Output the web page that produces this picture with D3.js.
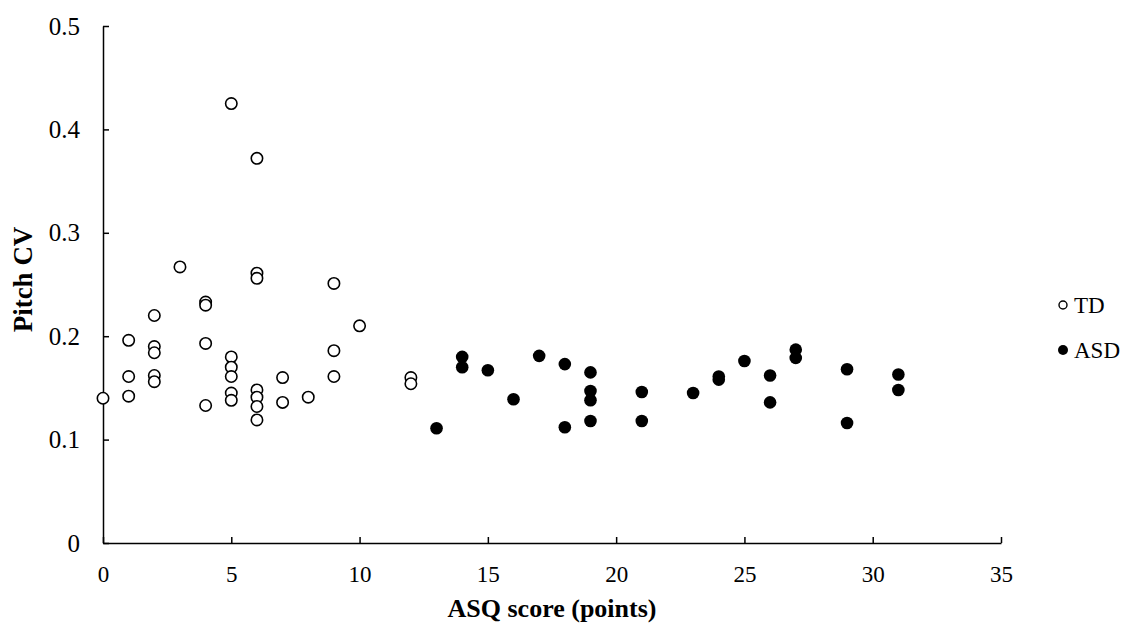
<!DOCTYPE html>
<html>
<head>
<meta charset="utf-8">
<script src="https://cdn.jsdelivr.net/npm/d3@7"></script>
<style>
  body { margin: 0; background: #fff; }
  svg, svg text { font-family: "Liberation Serif", "Times New Roman", Times, serif; fill: #000; }
</style>
</head>
<body>
<svg id="chart" width="1132" height="630"></svg>
<script>
// ASQ score vs pitch CV
const tdScore = [0, 1, 1, 1, 2, 2, 2, 2, 2, 3, 4, 4, 4, 4, 5, 5, 5, 5, 5, 5, 6, 6, 6, 6, 6, 6, 6, 7, 7, 8, 9, 9, 9, 10, 12, 12];
const tdCV = [0.140, 0.196, 0.161, 0.142, 0.220, 0.190, 0.184, 0.162, 0.156, 0.267, 0.233, 0.230, 0.193, 0.133,
  0.425, 0.180, 0.170, 0.161, 0.145, 0.138, 0.372, 0.261, 0.256, 0.148, 0.141, 0.132, 0.119,
  0.160, 0.136, 0.141, 0.251, 0.186, 0.161, 0.210, 0.160, 0.154];

const asdScore = [13, 14, 14, 15, 16, 17, 18, 18, 19, 19, 19, 19, 21, 21, 23, 24, 24, 25, 26, 26, 27, 27, 29, 29, 31, 31];
const asdCV = [0.111, 0.180, 0.170, 0.167, 0.139, 0.181, 0.173, 0.112, 0.165, 0.147, 0.138, 0.118, 0.146, 0.118,
  0.145, 0.158, 0.161, 0.176, 0.162, 0.136, 0.187, 0.179, 0.168, 0.116, 0.163, 0.148];

const xTicks = [0, 5, 10, 15, 20, 25, 30, 35];
const yTicks = [0, 0.1, 0.2, 0.3, 0.4, 0.5];

const FONT = '"Liberation Serif", "Times New Roman", serif';

const svg = d3.select('#chart');
const margin = { left: 103, right: 131, top: 26, bottom: 87 };
const W = 1132, H = 630;

const x = d3.scaleLinear().domain([0, 35]).range([margin.left, W - margin.right]);
const y = d3.scaleLinear().domain([0, 0.5]).range([H - margin.bottom, margin.top]);

// both axes have their ticks pointing into the plot
const xAxis = svg.append('g')
  .attr('transform', `translate(0,${y(0)})`)
  .call(d3.axisBottom(x).tickValues(xTicks).tickSizeInner(-6).tickSizeOuter(0).tickPadding(23).tickFormat(d3.format('d')));

const yAxis = svg.append('g')
  .attr('transform', `translate(${x(0)},0)`)
  .call(d3.axisLeft(y).tickValues(yTicks).tickSizeInner(-6).tickSizeOuter(0).tickPadding(23).tickFormat(d => d === 0 ? '0' : d3.format('.1f')(d)));

[xAxis, yAxis].forEach(a => {
  a.attr('font-family', FONT);
  a.select('.domain').attr('stroke', '#000').attr('stroke-width', 1.5);
  a.selectAll('.tick line').attr('stroke', '#000').attr('stroke-width', 1.5);
  a.selectAll('.tick text').attr('fill', '#000');
});
xAxis.attr('font-size', 23);
yAxis.attr('font-size', 25);
xAxis.selectAll('.tick text').attr('dy', '0.71em');
yAxis.selectAll('.tick text').attr('dy', '0.32em');

svg.append('text')
  .attr('x', (x(0) + x(35)) / 2)
  .attr('y', 617)
  .attr('text-anchor', 'middle')
  .attr('font-family', FONT)
  .attr('font-size', 26)
  .attr('font-weight', 'bold')
  .text('ASQ score (points)');

svg.append('text')
  .attr('transform', `translate(32,${y(0.25) - 5}) rotate(-90)`)
  .attr('text-anchor', 'middle')
  .attr('font-family', FONT)
  .attr('font-size', 27)
  .attr('font-weight', 'bold')
  .text('Pitch CV');

// points
svg.append('g').selectAll('circle')
  .data(d3.zip(tdScore, tdCV))
  .enter().append('circle')
  .attr('cx', d => x(d[0]))
  .attr('cy', d => y(d[1]))
  .attr('r', 5.7)
  .attr('fill', '#fff')
  .attr('stroke', '#000')
  .attr('stroke-width', 1.6);

svg.append('g').selectAll('circle')
  .data(d3.zip(asdScore, asdCV))
  .enter().append('circle')
  .attr('cx', d => x(d[0]))
  .attr('cy', d => y(d[1]))
  .attr('r', 6.3)
  .attr('fill', '#000');

// legend
const legend = svg.append('g').attr('transform', 'translate(1063,0)');
[['TD', 305, false], ['ASD', 350, true]].forEach(([lab, ly, filled]) => {
  legend.append('circle')
    .attr('cx', 0).attr('cy', ly)
    .attr('r', filled ? 5 : 4)
    .attr('fill', filled ? '#000' : '#fff')
    .attr('stroke', '#000')
    .attr('stroke-width', filled ? 0 : 1.4);
  legend.append('text')
    .attr('x', 11).attr('y', ly)
    .attr('dy', '0.35em')
    .attr('font-family', FONT)
    .attr('font-size', 23)
    .text(lab);
});
</script>
</body>
</html>
